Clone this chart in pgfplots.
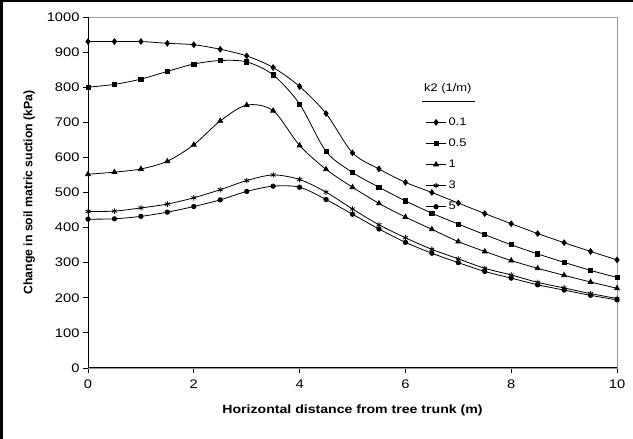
\documentclass[border=0pt]{standalone}
\usepackage{fontspec}
\setmainfont{Liberation Sans}[FakeStretch=1.18]
\newfontfamily\plainsans{Liberation Sans}
\usepackage{pgfplots}
\usepackage{pgfplotstable}
\pgfplotsset{compat=1.18}
\pgfplotstableread{
x    a    b    c    d    e
0    930  800  552  446  424
0.5  930  808  558  447  425
1    930  823  567  456  432
1.5  925  845  589  467  444
2    921  866  636  485  460
2.5  908  876  704  508  479
3    889  872  749  534  503
3.5  856  835  733  550  518
4    802  752  634  537  515
4.5  725  617  566  501  480
5    613  557  515  453  438
5.5  567  515  469  408  396
6    529  476  430  371  358
6.5  500  441  395  338  327
7    470  410  360  311  300
7.5  440  380  332  284  275
8    411  351  306  265  256
8.5  383  325  284  244  237
9    357  301  264  228  222
9.5  332  278  245  212  207
10   308  258  227  198  194
}\data
\begin{document}
\begin{tikzpicture}[x=1bp,y=1bp]
\useasboundingbox (0,0) rectangle (633,439);
\draw[line width=2.5bp] (0,437.75) -- (633,437.75);
\draw[line width=2.5bp] (1.25,0) -- (1.25,439);
\begin{axis}[
  at={(88bp,71bp)}, anchor=south west, scale only axis,
  width=529bp, height=351bp,
  xmin=0, xmax=10, ymin=0, ymax=1000,
  xtick={0,2,...,10}, ytick={0,100,...,1000},
  tick align=outside, xtick pos=bottom, ytick pos=left,
  major tick length=5bp, tick style={black, line width=0.8bp},
  axis line style={gray!80, line width=0.9bp},
  ticklabel style={font=\fontsize{12.5}{14}\selectfont},
  xticklabel style={yshift=-3bp},
  /pgf/number format/assume math mode=true,
  /pgf/number format/1000 sep={},
  xlabel={Horizontal distance from tree trunk (m)},
  ylabel={Change in soil matric suction (kPa)},
  xlabel style={font=\fontsize{12}{13}\selectfont\bfseries, at={(axis description cs:0.5,-0.12)}, anchor=center},
  ylabel style={font=\plainsans\fontsize{12.3}{13}\selectfont\bfseries, at={(axis description cs:-0.111,0.5)}, anchor=center, rotate=0},
  legend cell align=left,
  legend style={draw=none, fill=none, at={(rel axis cs:0.638,0.719)}, anchor=north west,
    font=\fontsize{11}{12}\selectfont, row sep=8.0bp, inner sep=0pt},
  legend image code/.code={\draw[mark repeat=2,mark phase=2,#1] plot coordinates {(0bp,0bp) (10bp,0bp) (20bp,0bp)};},
  clip=false,
]
\addplot[black, line width=0.8bp, smooth, mark=diamond*, mark size=2.8bp, mark options={solid, fill=black}] table[x=x,y=a] {\data};
\addlegendentry{0.1}
\addplot[black, line width=0.8bp, smooth, mark=square*, mark size=2.1bp, mark options={solid, fill=black}] table[x=x,y=b] {\data};
\addlegendentry{0.5}
\addplot[black, line width=0.8bp, smooth, mark=triangle*, mark size=2.8bp, mark options={solid, fill=black}] table[x=x,y=c] {\data};
\addlegendentry{1}
\addplot[black, line width=0.8bp, smooth, mark=asterisk, mark size=2.8bp, mark options={solid, line width=0.8bp}] table[x=x,y=d] {\data};
\addlegendentry{3}
\addplot[black, line width=0.8bp, smooth, mark=*, mark size=2.2bp, mark options={solid, fill=black}] table[x=x,y=e] {\data};
\addlegendentry{5}
\draw[black, line width=1bp] (rel axis cs:0,0) -- (rel axis cs:1,0);
\draw[black, line width=1bp] (rel axis cs:0,0) -- (rel axis cs:0,1);
\node[anchor=west, font=\fontsize{11}{13}\selectfont, inner sep=0pt] at (rel axis cs:0.635,0.795) {k2 (1/m)};
\draw[black, line width=0.7bp] (rel axis cs:0.631,0.761) -- (rel axis cs:0.731,0.761);
\end{axis}
\end{tikzpicture}
\end{document}
